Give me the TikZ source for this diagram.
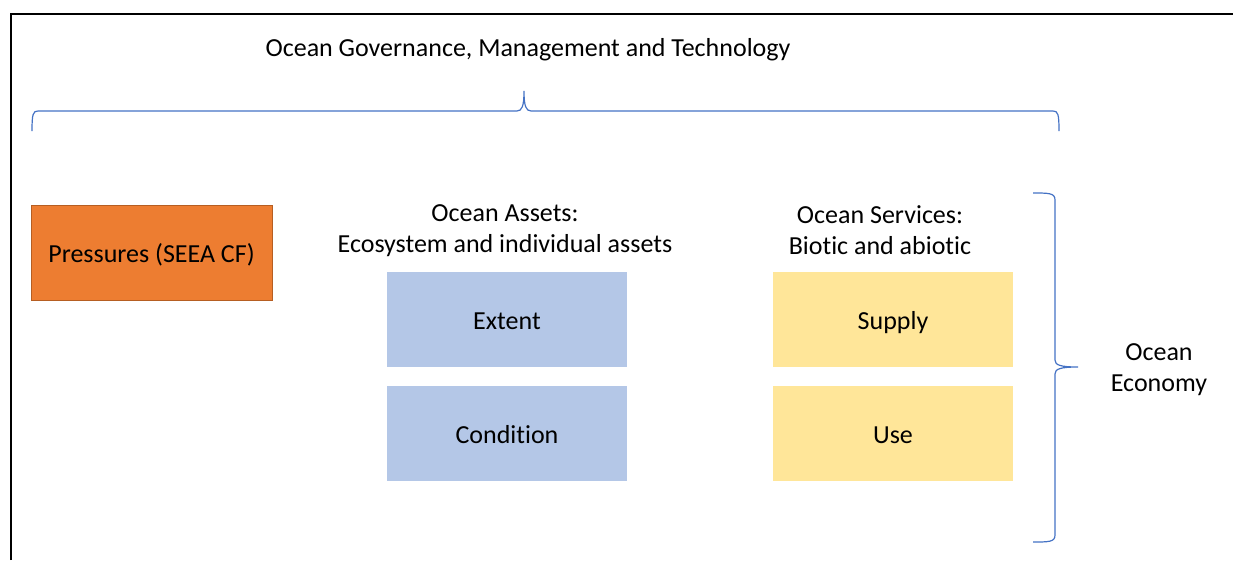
\documentclass[tikz,border=0pt]{standalone}
\usepackage{fontspec}
\setmainfont[Ligatures={NoCommon}]{Carlito}
\definecolor{braceblue}{HTML}{4472C4}
\definecolor{orangefill}{HTML}{ED7D31}
\definecolor{orangeedge}{HTML}{B65E22}
\definecolor{bluefill}{HTML}{B4C7E7}
\definecolor{yellowfill}{HTML}{FFE699}
\newcommand{\boxtxt}[1]{\raisebox{-10pt}[0pt][0pt]{#1}}
\tikzset{
  lbl/.style={font=\fontsize{26}{31}\selectfont, align=center, inner sep=0pt},
  box/.style={minimum width=240pt, minimum height=95pt, inner sep=0pt, font=\fontsize{26}{31}\selectfont},
  brc/.style={draw=braceblue, line width=1.2pt},
}
\begin{document}
\begin{tikzpicture}[x=1pt,y=-1pt]
\useasboundingbox (0,0) rectangle (1233,560);
% frame
\draw[line width=2.5pt, black] (11,560) -- (11,14) -- (1233,14);
% title
\node[lbl] (gov) at (528,50) {Ocean Governance, Management and Technology};
% top brace
\draw[brc] (32,131) .. controls (32,114) and (33,111) .. (38,111) -- (517,111)
  .. controls (522,111) and (524,106) .. (524,91)
  .. controls (524,106) and (526,111) .. (531,111) -- (1053,111)
  .. controls (1058,111) and (1059,114) .. (1059,131);
% pressures
\node[box, fill=orangefill, draw=orangeedge, line width=0.8pt, minimum width=241pt] (press) at (151.5,252.5) {\boxtxt{Pressures (SEEA CF)}};
% assets
\node[lbl] (assets) at (505,230.5) {Ocean Assets:\\Ecosystem and individual assets};
\node[box, fill=bluefill] (extent) at (507,319.5) {\boxtxt{Extent}};
\node[box, fill=bluefill] (cond) at (507,433) {\boxtxt{Condition}};
% services
\node[lbl] (serv) at (880,230.5) {Ocean Services:\\Biotic and abiotic};
\node[box, fill=yellowfill] (supply) at (893,319.5) {\boxtxt{Supply}};
\node[box, fill=yellowfill] (use) at (893,433) {\boxtxt{Use}};
% right brace
\draw[brc] (1033,193) .. controls (1049,193) and (1055,193) .. (1055,200) -- (1055,360)
  .. controls (1055,365) and (1060,367) .. (1078,367)
  .. controls (1060,367) and (1055,369) .. (1055,374) -- (1055,535)
  .. controls (1055,542) and (1049,542) .. (1033,542);
\node[lbl] (econ) at (1159,369.5) {Ocean\\Economy};
\end{tikzpicture}
\end{document}
